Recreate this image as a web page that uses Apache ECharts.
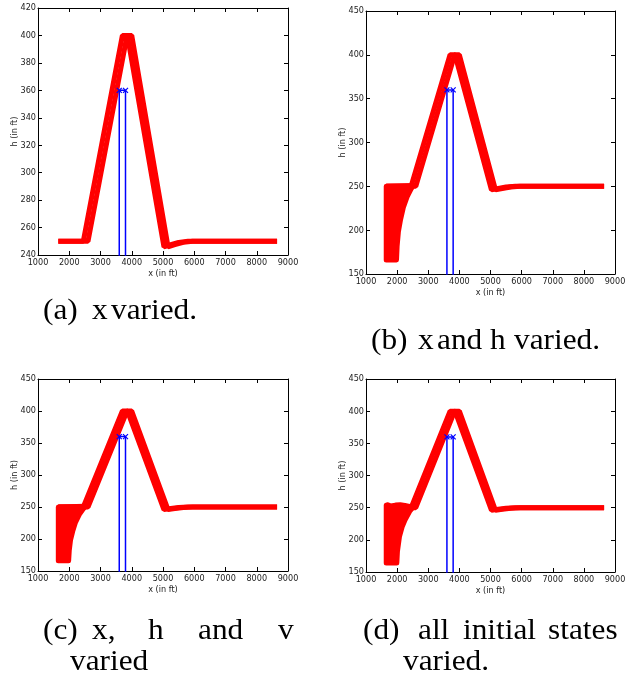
<!DOCTYPE html>
<html lang="en">
<head>
    <meta charset="UTF-8">
    <title>trajectories</title>
    <script src="https://cdn.jsdelivr.net/npm/echarts@6/dist/echarts.min.js"></script>
    <style>
        html, body { margin: 0; padding: 0; background: #fff; }
    </style>
</head>
<body>
<div id="main" style="width: 643px;height:681px;"></div>
<script>
    // main trajectory, drawn twice (spread of initial x gives a thick slanted band)
    var mainLo = [[1650, 250], [2450, 250], [3700, 400], [3860, 400], [5030, 246], [5250, 247.5], [5500, 249.2], [5800, 250], [8650, 250]];
    var mainHi = [[1650, 250], [2600, 250], [3850, 400], [4000, 400], [5160, 246], [5380, 247.5], [5650, 249.2], [5950, 250], [8650, 250]];

    // outline of the fan of trajectories when h (and more) is varied
    var fanBC = [[1650, 166], [1980, 166], [2000, 182], [2040, 198], [2110, 212], [2200, 226], [2320, 238], [2450, 247], [2520, 251], [1650, 250]];
    var fanD = [[1650, 164], [1990, 164], [2010, 182], [2075, 205], [2160, 220], [2257, 231], [2400, 244], [2500, 250],
        [2400, 252], [2250, 253.5], [2100, 254.5], [1950, 254], [1800, 252.5], [1700, 254.5], [1650, 254]];

    // obstacle box (bottom runs below the axis and gets clipped)
    var obstacleX = [3600, 3600, 3800, 3800];
    var obstacleH = [0, 360, 360, 0];

    var yRanges = [[240, 420, 20], [150, 450, 50], [150, 450, 50], [150, 450, 50]];
    var fans = [null, fanBC, fanBC, fanD];
    var grids = [
        {left: 38, top: 8, width: 250, height: 247},
        {left: 366, top: 11, width: 249, height: 263},
        {left: 38, top: 379, width: 250, height: 192},
        {left: 366, top: 379, width: 249, height: 193}
    ];

    var captions = [
        ['(a)', 43, 311], ['x', 92, 311], ['varied.', 111, 311],
        ['(b)', 371, 341], ['x', 418, 341], ['and', 437, 341], ['h', 490, 341], ['varied.', 514, 341],
        ['(c)', 43, 631], ['x,', 92, 631], ['h', 148, 631], ['and', 198, 631], ['v', 278, 631], ['varied', 70, 662],
        ['(d)', 363, 631], ['all', 418, 631], ['initial', 463, 631], ['states', 548, 631], ['varied.', 403, 662]
    ];

    var tickFont = "'Liberation Sans Narrow', 'DejaVu Sans Condensed', sans-serif";
    var xAxes = [], yAxes = [], series = [];

    function plain(v) { return String(v); }

    function axisBase(gi, pos) {
        return {
            type: 'value', gridIndex: gi, position: pos,
            axisLine: {show: true, onZero: false, lineStyle: {color: '#000', width: 1}},
            axisTick: {show: true, inside: true, length: 4, lineStyle: {color: '#000'}},
            splitLine: {show: false},
            axisLabel: {show: false}
        };
    }

    grids.forEach(function (g, i) {
        var yr = yRanges[i];
        var xb = axisBase(i, 'bottom');
        xb.min = 1000; xb.max = 9000; xb.interval = 1000;
        xb.axisLabel = {show: true, fontSize: 9, color: '#222', margin: 3, fontFamily: tickFont, formatter: plain};
        xb.name = 'x (in ft)'; xb.nameLocation = 'middle'; xb.nameGap = 14; xb.nameMoveOverlap = false;
        xb.nameTextStyle = {fontSize: 9, color: '#222', fontFamily: tickFont};
        var xt = axisBase(i, 'top');
        xt.min = 1000; xt.max = 9000; xt.interval = 1000;
        xAxes.push(xb, xt);

        var yl = axisBase(i, 'left');
        yl.min = yr[0]; yl.max = yr[1]; yl.interval = yr[2];
        yl.axisLabel = {show: true, fontSize: 9, color: '#222', margin: 2, fontFamily: tickFont, formatter: plain};
        yl.name = 'h (in ft)'; yl.nameLocation = 'middle'; yl.nameGap = 19; yl.nameRotate = 90; yl.nameMoveOverlap = false;
        yl.nameTextStyle = {fontSize: 9, color: '#222', fontFamily: tickFont};
        var yr2 = axisBase(i, 'right');
        yr2.min = yr[0]; yr2.max = yr[1]; yr2.interval = yr[2];
        yAxes.push(yl, yr2);

        var xi = 2 * i, yi = 2 * i;
        if (fans[i]) {
            (function (pts) {
                series.push({
                    type: 'custom', xAxisIndex: xi, yAxisIndex: yi, data: pts, z: 2,
                    renderItem: function (params, api) {
                        if (params.dataIndex !== 0) return;
                        var poly = pts.map(function (p) { return api.coord(p); });
                        return {
                            type: 'polygon', shape: {points: poly},
                            style: {fill: '#ff0000', stroke: '#ff0000', lineWidth: 5, lineJoin: 'round'}
                        };
                    }
                });
            })(fans[i]);
        }
        [mainLo, mainHi].forEach(function (d) {
            series.push({
                type: 'line', xAxisIndex: xi, yAxisIndex: yi, data: d, symbol: 'none', z: 3,
                lineStyle: {color: '#ff0000', width: 5}
            });
        });
        var box = obstacleX.map(function (x, k) {
            return {value: [x, obstacleH[k]], symbol: obstacleH[k] > 0 ? 'path://M0,0L10,10M10,0L0,10' : 'none'};
        });
        series.push({
            type: 'line', xAxisIndex: xi, yAxisIndex: yi, data: box, z: 4, symbolSize: 5,
            showAllSymbol: true,
            lineStyle: {color: '#0000ff', width: 1.5},
            itemStyle: {color: '#0000ff', borderColor: '#0000ff', borderWidth: 1.2}
        });
    });

    var graphic = captions.map(function (c) {
        return {
            type: 'text', x: c[1], y: c[2], scaleX: 1.08,
            style: {text: c[0], fontFamily: 'Liberation Serif', fontSize: 29, fill: '#000', verticalAlign: 'middle'}
        };
    });

    var myChart = echarts.init(document.getElementById('main'));
    myChart.setOption({
        animation: false,
        backgroundColor: '#fff',
        grid: grids,
        xAxis: xAxes,
        yAxis: yAxes,
        series: series,
        graphic: graphic
    });
</script>
</body>
</html>
